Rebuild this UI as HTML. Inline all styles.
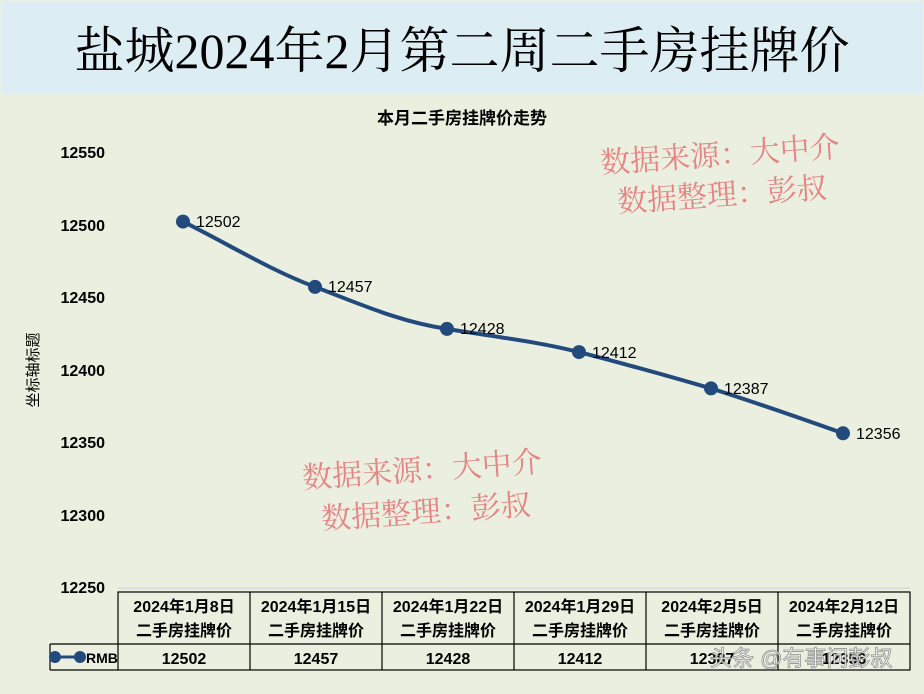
<!DOCTYPE html>
<html><head><meta charset="utf-8"><style>
body{margin:0;width:924px;height:689px;overflow:hidden;background:#ebefdf}
</style></head><body>
<svg width="924" height="689" xmlns="http://www.w3.org/2000/svg" font-family="Liberation Sans, Noto Sans CJK SC, sans-serif">
<rect x="0" y="0" width="924" height="689" fill="#ebefdf"/>
<rect x="1" y="1" width="922" height="93" fill="#dcedf4"/>
<text x="462" y="68" text-anchor="middle" font-family="Liberation Serif, Noto Serif CJK SC, serif" font-size="50" fill="#000">盐城2024年2月第二周二手房挂牌价</text>
<text x="462" y="124" text-anchor="middle" font-size="17" font-weight="bold" fill="#000">本月二手房挂牌价走势</text>
<g font-size="16" font-weight="bold" fill="#000" text-anchor="end">
<text x="105" y="158">12550</text><text x="105" y="231">12500</text><text x="105" y="303">12450</text>
<text x="105" y="376">12400</text><text x="105" y="448">12350</text><text x="105" y="521">12300</text><text x="105" y="593">12250</text>
</g>
<text transform="translate(38,370) rotate(-90)" text-anchor="middle" font-size="15" fill="#000">坐标轴标题</text>
<line x1="118" y1="588" x2="910" y2="588" stroke="#c8ccd8" stroke-width="1"/>
<path d="M183,221.6 C230,245 270,270 315,286.9 C360,304 400,322 447,328.9 C495,337 535,341 579,352.1 C625,364 665,375 711,388.4 C760,404 800,418 843,433.3" fill="none" stroke="#234a7c" stroke-width="4"/>
<g fill="#234a7c">
<circle cx="183" cy="221.6" r="7"/><circle cx="315" cy="286.9" r="7"/><circle cx="447" cy="328.9" r="7"/>
<circle cx="579" cy="352.1" r="7"/><circle cx="711" cy="388.4" r="7"/><circle cx="843" cy="433.3" r="7"/>
</g>
<g font-size="16" fill="#000">
<text x="196" y="227">12502</text><text x="328" y="292">12457</text><text x="460" y="334">12428</text>
<text x="592" y="358">12412</text><text x="724" y="394">12387</text><text x="856" y="439">12356</text>
</g>
<g font-family="Liberation Serif, Noto Serif CJK SC, serif" font-size="30" fill="#e48484">
<text x="720" y="165" text-anchor="middle" transform="rotate(-4 720 155)">数据来源：大中介</text>
<text x="722" y="205" text-anchor="middle" transform="rotate(-4 722 195)">数据整理：彭叔</text>
<text x="422" y="480" text-anchor="middle" transform="rotate(-4 422 470)">数据来源：大中介</text>
<text x="426" y="522" text-anchor="middle" transform="rotate(-4 426 512)">数据整理：彭叔</text>
</g>
<g stroke="#000" stroke-width="1.2" fill="none">
<rect x="118" y="592" width="792" height="78"/>
<line x1="50" y1="644" x2="910" y2="644"/>
<line x1="50" y1="644" x2="50" y2="670"/><line x1="50" y1="670" x2="118" y2="670"/>
<line x1="250" y1="592" x2="250" y2="670"/><line x1="382" y1="592" x2="382" y2="670"/>
<line x1="514" y1="592" x2="514" y2="670"/><line x1="646" y1="592" x2="646" y2="670"/>
<line x1="778" y1="592" x2="778" y2="670"/>
</g>
<g font-size="16" font-weight="bold" fill="#000" text-anchor="middle">
<text x="184" y="612">2024年1月8日</text><text x="184" y="636">二手房挂牌价</text>
<text x="316" y="612">2024年1月15日</text><text x="316" y="636">二手房挂牌价</text>
<text x="448" y="612">2024年1月22日</text><text x="448" y="636">二手房挂牌价</text>
<text x="580" y="612">2024年1月29日</text><text x="580" y="636">二手房挂牌价</text>
<text x="712" y="612">2024年2月5日</text><text x="712" y="636">二手房挂牌价</text>
<text x="844" y="612">2024年2月12日</text><text x="844" y="636">二手房挂牌价</text>
<text x="184" y="664">12502</text><text x="316" y="664">12457</text><text x="448" y="664">12428</text>
<text x="580" y="664">12412</text><text x="712" y="664">12387</text><text x="844" y="664">12356</text>
</g>
<line x1="55" y1="657" x2="80" y2="657" stroke="#234a7c" stroke-width="3"/>
<circle cx="55" cy="657" r="6" fill="#234a7c"/><circle cx="80" cy="657" r="6" fill="#234a7c"/>
<text x="86" y="663" font-size="14" font-weight="bold" fill="#000">RMB</text>
<text x="710" y="666" font-size="22" fill="#fff" stroke="#888" stroke-width="0.8" opacity="0.9">头条 @有事问彭叔</text>
</svg>
</body></html>
